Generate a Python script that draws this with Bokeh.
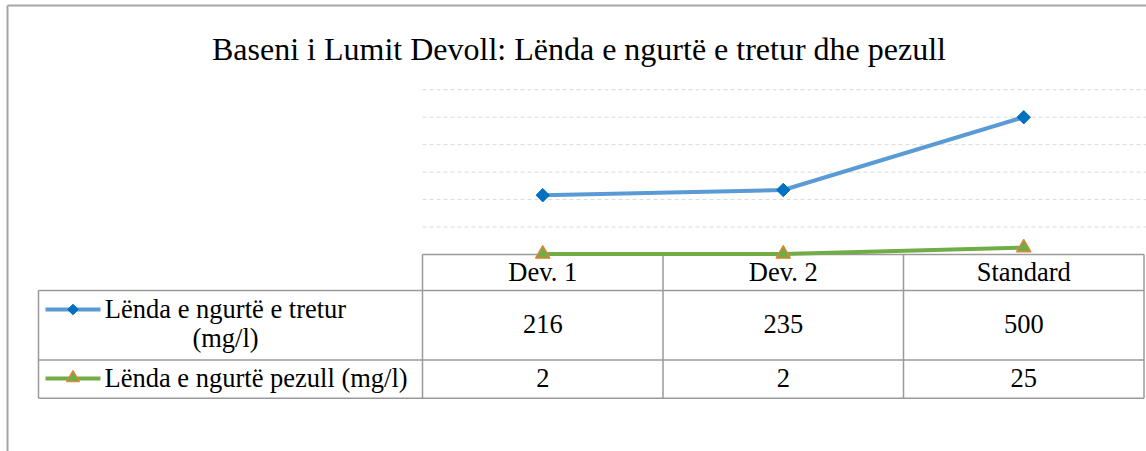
from bokeh.plotting import figure
from bokeh.models import Range1d
from bokeh.core.properties import value
from bokeh.embed import file_html
from bokeh.resources import INLINE
import numpy as np

# ---- data -------------------------------------------------------------
title = "Baseni i Lumit Devoll: Lënda e ngurtë e tretur dhe pezull"
categories = ["Dev. 1", "Dev. 2", "Standard"]
tretur_label = ["Lënda e ngurtë e tretur", "(mg/l)"]
pezull_label = "Lënda e ngurtë pezull (mg/l)"
tretur = [216, 235, 500]
pezull = [2, 2, 25]
y_ticks = [100, 200, 300, 400, 500, 600]

# ---- layout (pixels) ---------------------------------------------------
W, H = 1146, 451
PLOT_LEFT = 422          # left edge of the value columns
COL_W = 240.5            # width of one category column
ZERO_Y = 254             # pixel row of value 0
PX_PER_UNIT = 0.2746     # vertical pixels per mg/l
TABLE_LEFT = 38
ROW_Y = [254, 290, 359.5, 397.7]   # header top, row1 top, row2 top, bottom

TITLE_SIZE = 32
CELL_SIZE = 26.5
SHIFT = 0.35             # baseline correction, in em

FONT = value("Liberation Serif")
BLUE_LINE, BLUE_MARK = "#5B9BD5", "#0070C0"
GREEN_LINE, ORANGE = "#70AD47", "#ED7D31"
TABLE_COL = "#9A9A9A"

n = len(categories)
xs = [i + 0.5 for i in range(n)]

y_end = ZERO_Y / PX_PER_UNIT
y_start = y_end - H / PX_PER_UNIT
x_start = -PLOT_LEFT / COL_W
x_end = (W - PLOT_LEFT) / COL_W

p = figure(width=W, height=H, x_range=Range1d(x_start, x_end),
           y_range=Range1d(y_start, y_end), output_backend="svg",
           toolbar_location=None, x_axis_location=None, y_axis_location=None,
           min_border=0, outline_line_color=None)
p.grid.visible = False
p.background_fill_color = "white"
p.border_fill_color = "white"
p.extra_x_ranges = {"px": Range1d(0, W)}
p.extra_y_ranges = {"px": Range1d(H, 0)}
PX = dict(x_range_name="px", y_range_name="px")


def base(y, size):
    return y - SHIFT * size


# outer chart frame
p.segment(x0=[7, 7], y0=[5, 5], x1=[W + 5, 7], y1=[5, H + 5],
          line_color="#A6A6A6", line_width=2, **PX)

# title
p.text(x=[578.5], y=[base(60, TITLE_SIZE)], text=[title], text_font=FONT,
       text_font_size=f"{TITLE_SIZE}px", text_align="center",
       text_baseline="alphabetic", text_color="black", **PX)

# dashed horizontal gridlines over the value columns
p.segment(x0=[0] * len(y_ticks), x1=[x_end] * len(y_ticks), y0=y_ticks, y1=y_ticks,
          line_color="#D9D9D9", line_width=1, line_dash="4 3")

# ---- data table --------------------------------------------------------
col_edges = [PLOT_LEFT + i * COL_W for i in range(n + 1)]
right = col_edges[-1]
hx0 = [col_edges[0], TABLE_LEFT, TABLE_LEFT, TABLE_LEFT]
hx1 = [right] * 4
p.segment(x0=hx0, x1=hx1, y0=ROW_Y, y1=ROW_Y, line_color=TABLE_COL, line_width=1.5, **PX)
vx = col_edges + [TABLE_LEFT]
vy0 = [ROW_Y[0]] * (n + 1) + [ROW_Y[1]]
p.segment(x0=vx, x1=vx, y0=vy0, y1=[ROW_Y[3]] * (n + 2),
          line_color=TABLE_COL, line_width=1.5, **PX)

TXT = dict(text_font=FONT, text_font_size=f"{CELL_SIZE}px", text_align="center",
           text_baseline="alphabetic", text_color="black")
centers = [PLOT_LEFT + (i + 0.5) * COL_W for i in range(n)]
p.text(x=centers, y=[base(281, CELL_SIZE)] * n, text=categories, **TXT, **PX)
p.text(x=centers, y=[base(333, CELL_SIZE)] * n, text=[str(v) for v in tretur], **TXT, **PX)
p.text(x=centers, y=[base(386.5, CELL_SIZE)] * n, text=[str(v) for v in pezull], **TXT, **PX)

# row labels with legend keys
p.text(x=[225, 225], y=[base(318, CELL_SIZE), base(347, CELL_SIZE)],
       text=tretur_label, **TXT, **PX)
p.text(x=[104], y=[base(386.5, CELL_SIZE)], text=[pezull_label],
       **{**TXT, "text_align": "left"}, **PX)

p.segment(x0=[45], x1=[100], y0=[309], y1=[309], line_color=BLUE_LINE, line_width=4, **PX)
p.scatter(x=[72.5], y=[309], marker="square", angle=np.pi / 4, size=7.5,
          fill_color=BLUE_MARK, line_color=BLUE_MARK, **PX)
p.segment(x0=[45], x1=[100], y0=[378], y1=[378], line_color=GREEN_LINE, line_width=4, **PX)
p.scatter(x=[72.5], y=[377.5], marker="triangle", size=13,
          fill_color=GREEN_LINE, line_color=ORANGE, line_width=1.2, **PX)

# ---- series ------------------------------------------------------------
p.line(xs, tretur, line_color=BLUE_LINE, line_width=4)
p.scatter(xs, tretur, marker="square", angle=np.pi / 4, size=9.5,
          fill_color=BLUE_MARK, line_color=BLUE_MARK)
p.line(xs, pezull, line_color=GREEN_LINE, line_width=4)
p.scatter(xs, pezull, marker="triangle", size=14.5,
          fill_color=GREEN_LINE, line_color=ORANGE, line_width=1.2)

open("out.html", "w").write(file_html(p, INLINE))
